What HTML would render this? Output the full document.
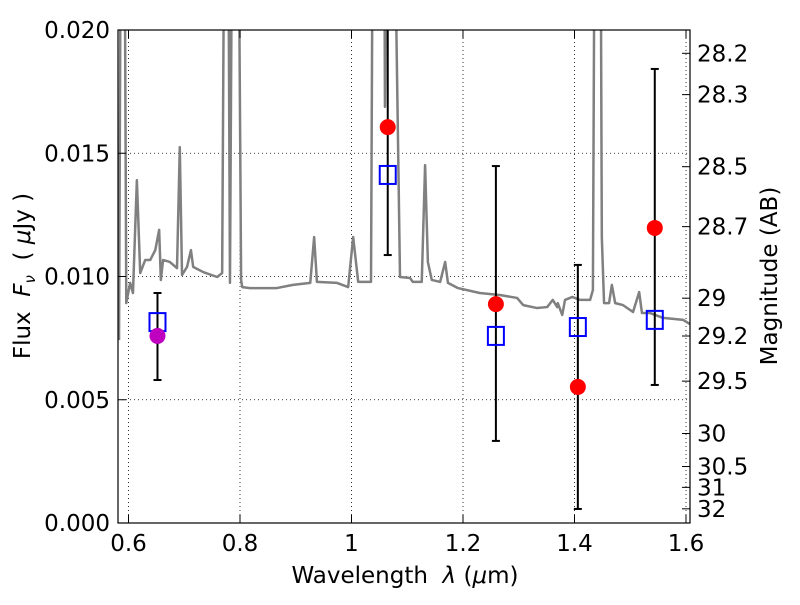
<!DOCTYPE html>
<html><head><meta charset="utf-8"><style>
body{margin:0;background:#fff}
svg text{font-family:"DejaVu Sans","Liberation Sans",sans-serif;font-size:23px;fill:#000}
.pre{white-space:pre}
</style></head><body>
<svg id="chart" width="800" height="600" xmlns="http://www.w3.org/2000/svg">
<defs><clipPath id="clip"><rect x="118" y="30" width="572" height="493"/></clipPath></defs>
<g id="grid"></g>
<g id="plot" clip-path="url(#clip)"></g>
<rect x="118" y="30" width="572" height="493" fill="none" stroke="#000" stroke-width="1.2"/>
<g id="axes"></g>
<text class="pre" x="405" y="583" text-anchor="middle">Wavelength  <tspan font-style="italic">λ</tspan> (<tspan font-style="italic">μ</tspan>m)</text>
<text class="pre" transform="translate(30,276) rotate(-90)" text-anchor="middle">Flux  <tspan font-style="italic">F</tspan><tspan font-style="italic" font-size="15" dy="5">ν</tspan><tspan dy="-5">  ( </tspan><tspan font-style="italic">μ</tspan>Jy )</text>
<text transform="translate(777,276) rotate(-90)" text-anchor="middle">Magnitude (AB)</text>
</svg>
<script>
const specLam=[0.583,0.587,0.592,0.596,0.603,0.608,0.615,0.621,0.630,0.639,0.648,0.655,0.658,0.662,0.674,0.687,0.692,0.696,0.705,0.712,0.716,0.734,0.759,0.768,0.773,0.778,0.782,0.787,0.796,0.802,0.804,0.818,0.866,0.895,0.926,0.933,0.938,0.974,0.994,1.003,1.012,1.035,1.039,1.058,1.060,1.066,1.074,1.087,1.105,1.110,1.126,1.132,1.137,1.144,1.159,1.168,1.173,1.191,1.230,1.266,1.297,1.308,1.333,1.351,1.361,1.369,1.370,1.378,1.383,1.396,1.410,1.428,1.433,1.437,1.446,1.449,1.453,1.462,1.467,1.473,1.487,1.505,1.516,1.521,1.535,1.559,1.595,1.607];
const specFlux=[7.42,30,30,8.92,9.74,9.33,13.91,10.14,10.67,10.67,11.07,11.89,9.86,10.67,10.59,10.34,15.25,10.06,10.39,11.07,10.39,10.18,9.98,10.14,30,30,9.74,30,30,9.86,9.57,9.53,9.53,9.66,9.74,11.60,9.78,9.74,9.57,11.60,9.78,9.78,30,30,16.88,30,30,9.98,9.94,9.78,9.78,14.52,10.59,9.86,9.78,10.59,9.74,9.53,9.33,9.25,9.13,8.84,8.72,8.76,9.05,8.76,8.92,8.44,9.05,9.17,9.05,9.05,9.45,30,30,11.60,8.92,8.92,9.66,8.92,8.84,8.56,9.37,8.52,8.52,8.32,8.24,8.07];
const photLam=[1.065,1.259,1.406,1.544];
const photFlux=[16.06,8.88,5.52,11.97];
const magLam=[0.652];
const magFlux=[7.59];
const sqLam=[0.652,1.065,1.259,1.406,1.544];
const sqFlux=[8.15,14.12,7.59,7.95,8.24];
const errLam=[0.652,1.065,1.259,1.406,1.544];
const errLo=[5.80,10.87,3.33,0.57,5.60];
const errHi=[9.33,21.0,14.48,10.47,18.42];
const xTicks=[0.6,0.8,1.0,1.2,1.4,1.6];
const xTickLabels=["0.6","0.8","1","1.2","1.4","1.6"];
const yTicks=[0,5,10,15,20];
const yTickLabels=["0.000","0.005","0.010","0.015","0.020"];
const magTicks=[28.2,28.3,28.5,28.7,29,29.2,29.5,30,30.5,31,32];
const magLabels=["28.2","28.3","28.5","28.7","29","29.2","29.5","30","30.5","31","32"];

const NS="http://www.w3.org/2000/svg";
const X=l=>128.5+(l-0.6)*557.5;
const Y=f=>523-f*24.65;
const magToFlux=m=>1000*Math.pow(10,(23.9-m)/2.5);
function mk(tag,attrs,parent){const e=document.createElementNS(NS,tag);for(const k in attrs)e.setAttribute(k,attrs[k]);parent.appendChild(e);return e;}
const grid=document.getElementById('grid'),plot=document.getElementById('plot'),axes=document.getElementById('axes');

xTicks.forEach((t,i)=>{
 const g=mk('line',{x1:X(t),x2:X(t),y1:30,y2:523,stroke:'#000','stroke-width':0.8,'stroke-dasharray':'1,3'},grid);
 
 
 mk('line',{x1:X(t),x2:X(t),y1:523,y2:515,stroke:'#000'},axes);
 mk('line',{x1:X(t),x2:X(t),y1:30,y2:38,stroke:'#000'},axes);
 const tx=mk('text',{x:X(t),y:551,'text-anchor':'middle'},axes);tx.textContent=xTickLabels[i];
 
 
});
yTicks.forEach((t,i)=>{
 const g=mk('line',{x1:118,x2:690,y1:Y(t),y2:Y(t),stroke:'#000','stroke-width':0.8,'stroke-dasharray':'1,3'},grid);
 
 
 mk('line',{x1:118,x2:126,y1:Y(t),y2:Y(t),stroke:'#000'},axes);
 const tx=mk('text',{x:110,y:Y(t)+8,'text-anchor':'end'},axes);tx.textContent=yTickLabels[i];
 
 
});
magTicks.forEach((m,i)=>{
 const y=Y(magToFlux(m));
 mk('line',{x1:682,x2:690,y1:y,y2:y,stroke:'#000'},axes);
 const tx=mk('text',{x:697,y:y+8,'text-anchor':'start'},axes);tx.textContent=magLabels[i];
 
 
});

const sp=mk('polyline',{points:specLam.map((l,i)=>X(l)+','+Y(specFlux[i])).join(' '),fill:'none',stroke:'#808080','stroke-width':2.5,'stroke-linejoin':'round'},plot);



errLam.forEach((l,i)=>{
 const x=X(l);
 const e=mk('g',{},plot);
 
 
 mk('line',{x1:x,x2:x,y1:Y(errLo[i]),y2:Y(errHi[i]),stroke:'#000','stroke-width':2},e);
 mk('line',{x1:x-4,x2:x+4,y1:Y(errLo[i]),y2:Y(errLo[i]),stroke:'#000','stroke-width':2},e);
 mk('line',{x1:x-4,x2:x+4,y1:Y(errHi[i]),y2:Y(errHi[i]),stroke:'#000','stroke-width':2},e);
});
sqLam.forEach((l,i)=>{
 const r=mk('rect',{x:X(l)-8,y:Y(sqFlux[i])-9,width:16,height:18,fill:'none',stroke:'#0000ff','stroke-width':2},plot);
 
 
});
photLam.forEach((l,i)=>{
 const c=mk('circle',{cx:X(l),cy:Y(photFlux[i]),r:8,fill:'#ff0000'},plot);
 
 
});
magLam.forEach((l,i)=>{
 const c=mk('circle',{cx:X(l),cy:Y(magFlux[i]),r:8,fill:'#bf00bf'},plot);
 
 
});
</script>
</body></html>
